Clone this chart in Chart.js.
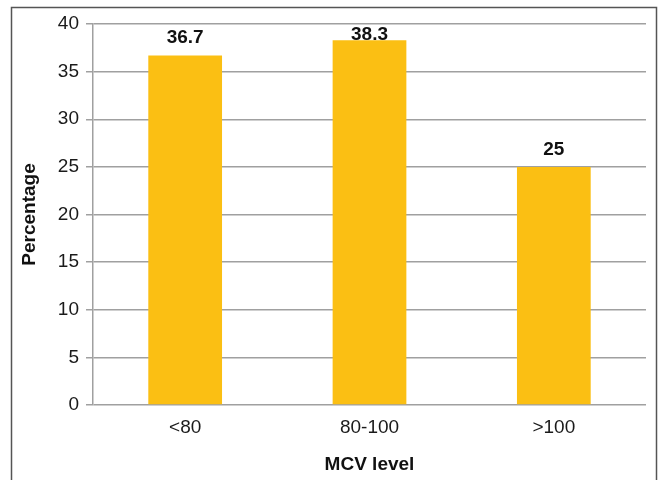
<!DOCTYPE html>
<html>
<head>
<meta charset="utf-8">
<script src="https://cdn.jsdelivr.net/npm/chart.js@4/dist/chart.umd.min.js"></script>
<style>
  html, body { margin: 0; padding: 0; background: #fff; }
  #wrap { width: 659px; height: 480px; position: relative; }
</style>
</head>
<body>
<div id="wrap"><canvas id="c" width="659" height="480"></canvas></div>
<script>
// MCV level groups and the share of patients in each
const categories = ['<80', '80-100', '>100'];
const percentages = [36.7, 38.3, 25];
const yTicks = [0, 5, 10, 15, 20, 25, 30, 35, 40];

const FONT = "'Liberation Sans', Arial, Helvetica, sans-serif";
const BAR_COLOR = '#FBBF13';
const GRID_COLOR = '#a0a0a0';

// Outer frame around the whole figure
const framePlugin = {
  id: 'frame',
  beforeDraw(chart) {
    const ctx = chart.ctx;
    ctx.save();
    ctx.strokeStyle = '#555555';
    ctx.lineWidth = 1.5;
    ctx.strokeRect(11.5, 7.5, 645, 520);
    ctx.restore();
  }
};

// Bold value labels above each bar, kept inside the plot area
const valueLabels = {
  id: 'valueLabels',
  afterDatasetsDraw(chart) {
    const ctx = chart.ctx;
    const meta = chart.getDatasetMeta(0);
    const top = chart.chartArea.top;
    ctx.save();
    ctx.font = 'bold 19px ' + FONT;
    ctx.fillStyle = '#111111';
    ctx.textAlign = 'center';
    ctx.textBaseline = 'alphabetic';
    meta.data.forEach((bar, i) => {
      const v = chart.data.datasets[0].data[i];
      let y = bar.y - 12;
      y = Math.max(y, top + 16);
      ctx.fillText(String(v), bar.x, y);
    });
    ctx.restore();
  }
};

new Chart(document.getElementById('c'), {
  type: 'bar',
  data: {
    labels: categories,
    datasets: [{
      data: percentages,
      backgroundColor: BAR_COLOR,
      borderWidth: 0,
      categoryPercentage: 0.4,
      barPercentage: 1.0
    }]
  },
  options: {
    responsive: false,
    animation: false,
    events: [],
    layout: { padding: { left: 0, right: 13, top: 24, bottom: 0 } },
    plugins: {
      legend: { display: false },
      tooltip: { enabled: false }
    },
    scales: {
      x: {
        grid: { display: false, drawTicks: false },
        border: { display: false },
        ticks: {
          font: { family: FONT, size: 19 },
          color: '#1a1a1a',
          padding: 11
        },
        title: {
          display: true,
          text: 'MCV level',
          font: { family: FONT, size: 19, weight: 'bold' },
          color: '#111111',
          padding: { top: 0, bottom: 4 }
        },
        afterFit(scale) { scale.height = 75; }
      },
      y: {
        min: 0,
        max: 40,
        afterBuildTicks(scale) { scale.ticks = yTicks.map(v => ({ value: v })); },
        grid: {
          color: GRID_COLOR,
          lineWidth: 1.5,
          drawTicks: true,
          tickLength: 7
        },
        border: { display: true, color: GRID_COLOR, width: 1.5 },
        ticks: {
          font: { family: FONT, size: 19 },
          color: '#1a1a1a',
          padding: 7
        },
        title: {
          display: true,
          text: 'Percentage',
          font: { family: FONT, size: 19, weight: 'bold' },
          color: '#111111',
          padding: { top: 18, bottom: 0 }
        },
        afterFit(scale) { scale.width = 93; }
      }
    }
  },
  plugins: [framePlugin, valueLabels]
});
</script>
</body>
</html>
